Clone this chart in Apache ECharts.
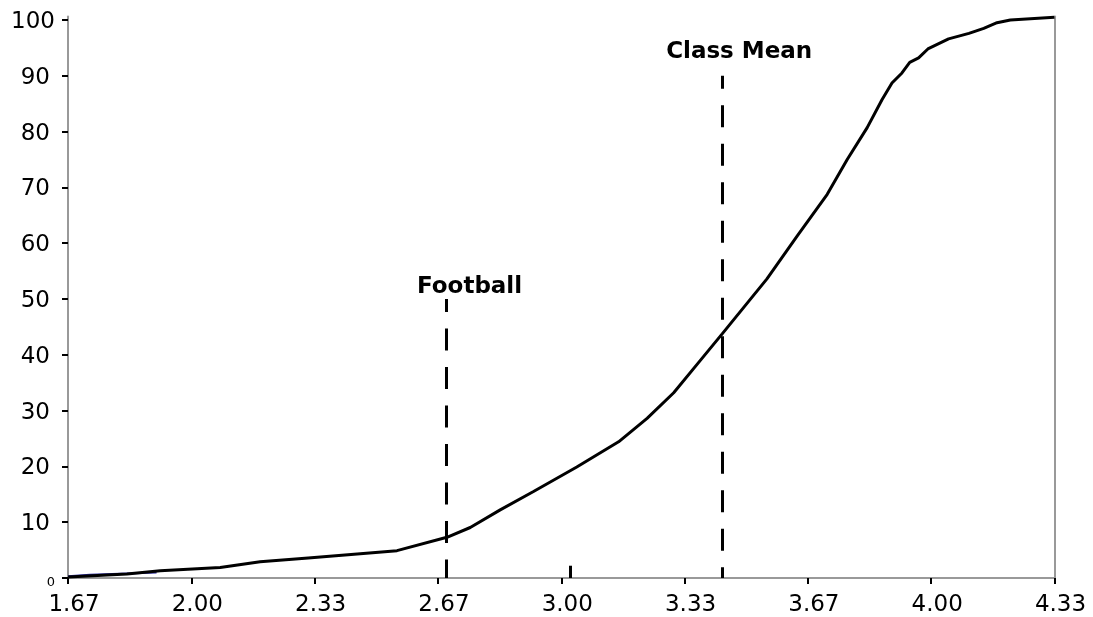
<!DOCTYPE html>
<html>
<head>
<meta charset="utf-8">
<script src="https://cdn.jsdelivr.net/npm/echarts@6/dist/echarts.min.js"></script>
<style>
  html, body { margin: 0; padding: 0; background: #fff; }
  #chart { width: 1093px; height: 617px; }
</style>
</head>
<body>
<div id="chart"></div>
<script>
// Cumulative distribution (grade point average vs cumulative percent)
const gpaX = [1.667, 1.826, 1.916, 2.078, 2.186, 2.316, 2.556, 2.691, 2.754, 2.835, 2.925, 3.042, 3.155, 3.232, 3.304, 3.376, 3.435, 3.556, 3.638, 3.719, 3.773, 3.827, 3.867, 3.894, 3.921, 3.942, 3.966, 3.991, 4.047, 4.102, 4.142, 4.178, 4.214, 4.333];
const cumPct = [0.2, 0.7, 1.3, 1.9, 2.9, 3.6, 4.9, 7.3, 9.05, 12.2, 15.5, 19.9, 24.4, 28.6, 33.2, 39.0, 43.75, 53.6, 61.3, 68.75, 75.0, 80.7, 85.7, 88.7, 90.5, 92.4, 93.2, 94.8, 96.6, 97.6, 98.5, 99.5, 100.0, 100.5];
// short blue series at the start
const blueX = [1.667, 1.726, 1.906];
const blueY = [0.3, 0.6, 1.0];
// reference lines
const refNames = ['Football', 'Class Mean'];
const refX = [2.69, 3.435];
const refTop = [50, 90];
const extraX = 3.024, extraTop = 2.2;
// ticks
const xTickValues = [5/3, 2, 7/3, 8/3, 3, 10/3, 11/3, 4, 13/3];
const yTickValues = [0, 10, 20, 30, 40, 50, 60, 70, 80, 90, 100];

const FONT = 'DejaVu Sans, Verdana, sans-serif';
const chart = echarts.init(document.getElementById('chart'));

const mainData = gpaX.map((x, i) => [x, cumPct[i]]);
const blueData = blueX.map((x, i) => [x, blueY[i]]);

const refLabelStyles = [
  { padding: [0, 0, 0, 46], distance: 0 },
  { padding: [0, 0, 0, 34], distance: 12 }
];
const markData = refX.map((x, i) => [
  { coord: [x, refTop[i]], name: refNames[i],
    label: { show: true, position: 'start', formatter: refNames[i],
      fontFamily: FONT, fontWeight: 'bold', fontSize: 23, color: '#000',
      padding: refLabelStyles[i].padding, distance: refLabelStyles[i].distance } },
  { coord: [x, 0] }
]);
markData.push([
  { coord: [extraX, 0] },
  { coord: [extraX, extraTop], label: { show: false }, lineStyle: { type: 'solid' } }
]);

chart.setOption({
  animation: false,
  backgroundColor: '#fff',
  grid: { left: 68, right: 38.5, top: 16.6, bottom: 37, containLabel: false },
  xAxis: {
    type: 'value', min: 5/3, max: 13/3,
    axisLine: { show: true, lineStyle: { color: '#999', width: 2 } },
    axisTick: { show: true, length: 6, lineStyle: { color: '#000', width: 2 }, customValues: xTickValues },
    axisLabel: { customValues: xTickValues, formatter: v => '{t|' + v.toFixed(2) + '}',
      fontFamily: FONT, fontSize: 23, color: '#000', margin: 16,
      rich: { t: { fontFamily: FONT, fontSize: 23, color: '#000', padding: [0, 0, 0, 12] } } },
    splitLine: { show: false }
  },
  yAxis: [{
    type: 'value', min: 0, max: 100.6,
    axisLine: { show: true, lineStyle: { color: '#999', width: 2 } },
    axisTick: { show: true, length: 6, lineStyle: { color: '#000', width: 2 }, customValues: yTickValues },
    axisLabel: { customValues: yTickValues,
      formatter: v => v === 0 ? '{s|0}' : (v === 100 ? '{a|100}' : '{b|' + v + '}'),
      fontFamily: FONT, fontSize: 23, color: '#000', margin: 13,
      rich: {
        s: { fontFamily: FONT, fontSize: 13, color: '#000', padding: [9, 0, 0, 0] },
        a: { fontFamily: FONT, fontSize: 23, color: '#000', padding: [4, 0, 0, 0] },
        b: { fontFamily: FONT, fontSize: 23, color: '#000', padding: [4, 5, 0, 0] }
      } },
    splitLine: { show: false }
  }, {
    type: 'value', min: 0, max: 100.6, position: 'right',
    axisLine: { show: true, lineStyle: { color: '#999', width: 2 } },
    axisTick: { show: false }, axisLabel: { show: false }, splitLine: { show: false }
  }],
  series: [{
    type: 'line', data: blueData, symbol: 'none', z: 1,
    lineStyle: { color: '#2a2a9c', width: 2 }, clip: false
  }, {
    type: 'line', data: mainData, symbol: 'none', z: 3, clip: false,
    lineStyle: { color: '#000', width: 3 },
    markLine: {
      silent: true, symbol: 'none', animation: false,
      lineStyle: { color: '#000', width: 3, type: [22, 16.5], dashOffset: 9 },
      data: markData
    }
  }]
});
</script>
</body>
</html>
